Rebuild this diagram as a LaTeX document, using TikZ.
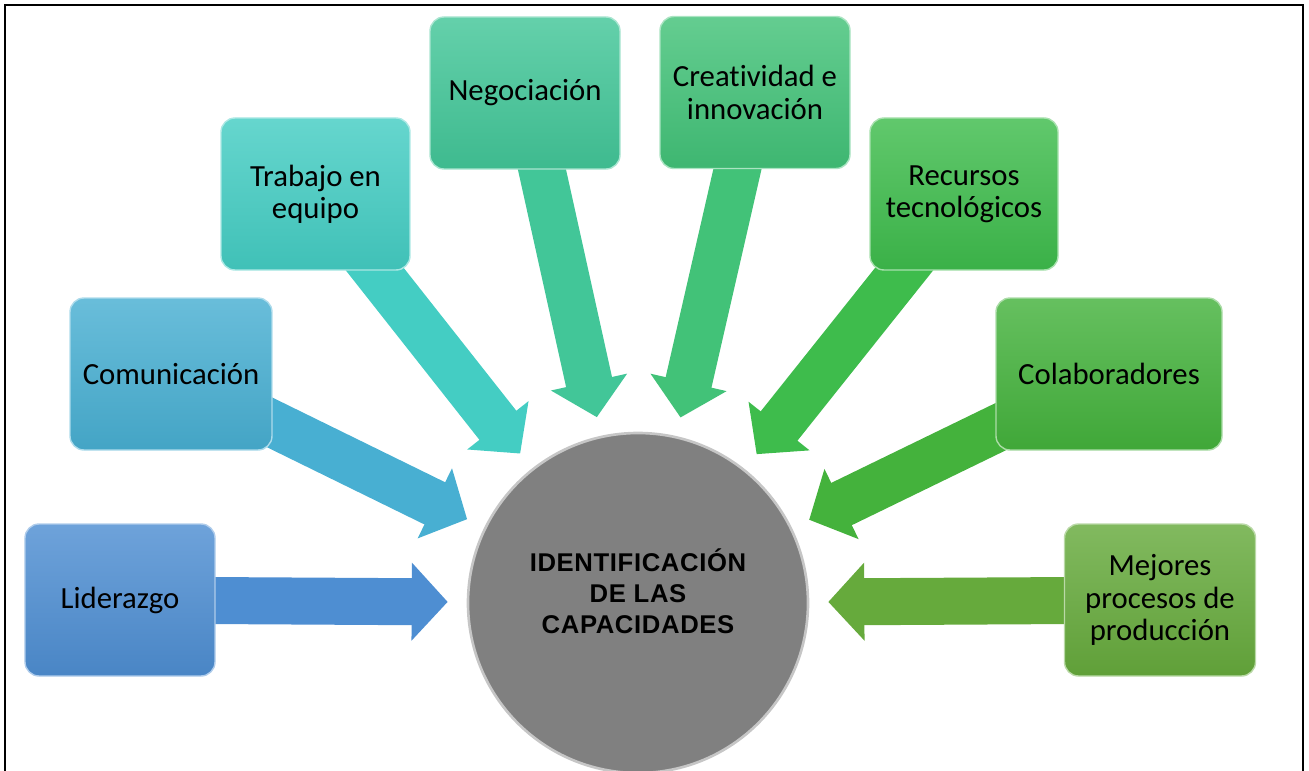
\documentclass[tikz,border=0pt]{standalone}
\usepackage{fontspec}
\setmainfont[Ligatures=NoCommon]{Carlito}
\newfontfamily\capsfont[LetterSpace=2.5]{Liberation Sans}
\usepackage{tikz}
\usetikzlibrary{arrows.meta,backgrounds,positioning}
\usepackage{xcolor}

\definecolor{lidc}{RGB}{78,142,210}
\definecolor{comc}{RGB}{72,175,210}
\definecolor{trac}{RGB}{68,205,195}
\definecolor{negc}{RGB}{66,198,152}
\definecolor{crec}{RGB}{66,194,120}
\definecolor{recc}{RGB}{62,188,76}
\definecolor{colc}{RGB}{68,178,60}
\definecolor{mejc}{RGB}{102,170,60}
\definecolor{centc}{RGB}{128,128,128}

\tikzset{
  capbox/.style={rectangle, rounded corners=8pt, minimum width=3.8cm, minimum height=3.04cm,
    align=center, text=black, font=\fontsize{17.5}{18.4}\selectfont,
    top color=#1!82!white, bottom color=#1!94!black, draw=#1!45!white, line width=0.8pt},
  flecha/.style={line width=0.94cm, color=#1, -{Triangle[length=0.72cm, width=1.52cm]}, shorten >=0.38cm}
}

\begin{document}
\begin{tikzpicture}
\useasboundingbox (0,0) rectangle (26.18,15.4);
\draw[line width=1.2pt] (0.1,-0.5) -- (0.1,15.3) -- (26.06,15.3) -- (26.06,-0.5);

\node[circle, minimum size=6.8cm, fill=centc, draw=gray!45, line width=1.5pt, align=center,
  font=\capsfont\bfseries\fontsize{14.6}{17.6}\selectfont] (centro) at (12.76,3.34)
  {IDENTIFICACIÓN\\DE LAS\\CAPACIDADES\\[-4pt]};

\node[capbox=lidc] (lid) at (2.4,3.4) {Liderazgo};
\node[capbox=comc, minimum width=4.04cm] (com) at (3.42,7.92) {Comunicación};
\node[capbox=trac, minimum width=3.78cm] (tra) at (6.31,11.52) {Trabajo en\\equipo};
\node[capbox=negc] (neg) at (10.5,13.54) {Negociación};
\node[capbox=crec] (cre) at (15.1,13.55) {Creatividad e\\innovación};
\node[capbox=recc, minimum width=3.76cm] (rec) at (19.28,11.52) {Recursos\\tecnológicos};
\node[capbox=colc, minimum width=4.52cm] (col) at (22.18,7.92) {Colaboradores};
\node[capbox=mejc, minimum width=3.82cm] (mej) at (23.2,3.4) {Mejores\\procesos de\\producción};

\begin{pgfonlayer}{background}
\draw[flecha=lidc] (lid.center) -- (centro);
\draw[flecha=comc] (com.center) -- (centro);
\draw[flecha=trac] (tra.center) -- (centro);
\draw[flecha=negc] (neg.center) -- (centro);
\draw[flecha=crec] (cre.center) -- (centro);
\draw[flecha=recc] (rec.center) -- (centro);
\draw[flecha=colc] (col.center) -- (centro);
\draw[flecha=mejc] (mej.center) -- (centro);
\end{pgfonlayer}
\end{tikzpicture}
\end{document}
